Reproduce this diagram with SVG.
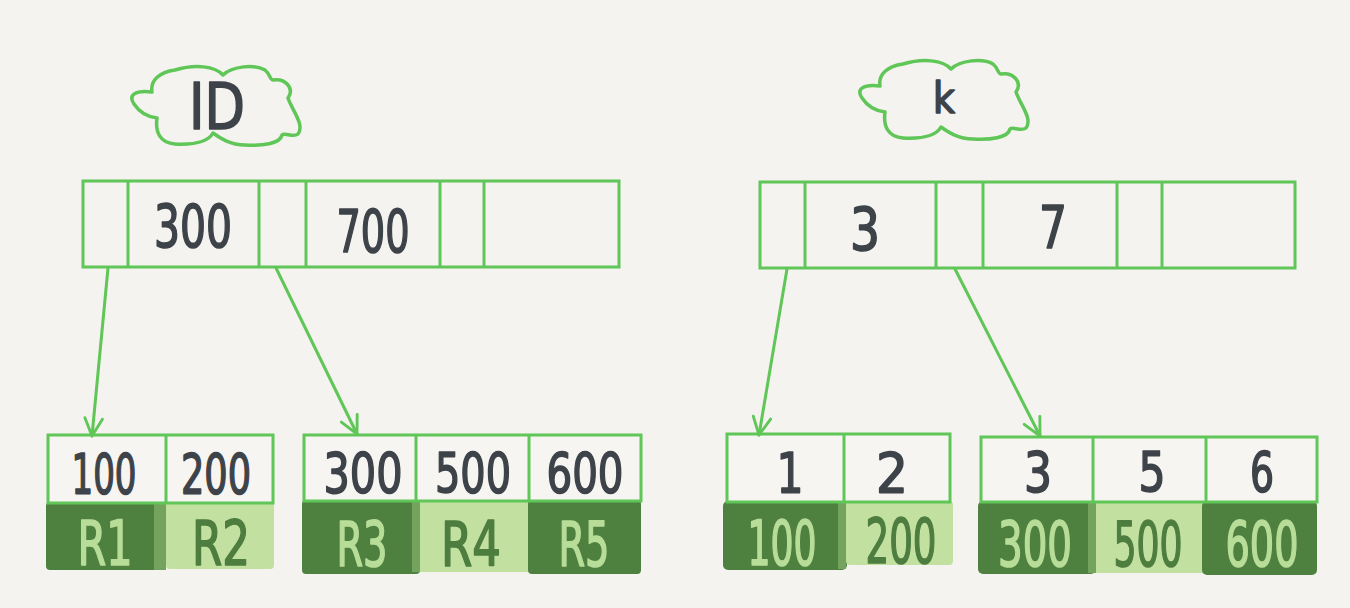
<svg xmlns="http://www.w3.org/2000/svg" width="1350" height="608" viewBox="0 0 1350 608">
<defs>
<marker id="arr" viewBox="0 0 20 20" refX="18" refY="10" markerWidth="22" markerHeight="22" markerUnits="userSpaceOnUse" orient="auto">
<path d="M2,2 L18,10 L2,18" fill="none" stroke="#5fc657" stroke-width="2.6" stroke-linecap="round" stroke-linejoin="round"/>
</marker>
<path id="cloud" d="M152 92 C150 80,160 72,175 70 C195 64,215 66,223 75 C232 66,255 64,265 70 C270 74,270 80,273 80 C285 78,295 88,288 98 C292 110,305 125,298 134 C293 138,285 132,282 135 C280 144,262 146,245 145 C230 145,220 138,213 133 C208 142,195 145,175 144 C160 143,155 132,157 118 C148 117,140 113,134 104 C128 95,135 90,152 92 Z"/>
</defs>
<style>
.bg{fill:#f4f3ef}
.box{fill:none;stroke:#5fc657;stroke-width:3}
.cell{fill:#f6f5f2;stroke:#5fc657;stroke-width:3}
.ln{stroke:#5fc657;stroke-width:3}
.cl{fill:none;stroke:#5fc657;stroke-width:3.5;stroke-linejoin:round}
.conn{fill:none;stroke:#5fc657;stroke-width:3;stroke-linecap:round}
.dk{fill:#4e8140}
.lt{fill:#c2e1a0}
.md{fill:#74a35e}
text{font-family:"DejaVu Sans Condensed","DejaVu Sans",sans-serif;text-anchor:middle;stroke-width:1.6;stroke-linejoin:round}
.t{fill:#3d4349;stroke:#3d4349;font-size:58px}
.s{font-size:56px}
.tl{fill:#b8dd98;stroke:#b8dd98;font-size:62px}
.td{fill:#4e7d40;stroke:#4e7d40;font-size:62px}
</style>
<rect class="bg" x="0" y="0" width="1350" height="608"/>

<g id="cloud-id">
<use href="#cloud" class="cl"/>
<text class="t" x="217" y="129" style="font-size:64px" textLength="56" lengthAdjust="spacingAndGlyphs">ID</text>
</g>
<g id="cloud-k">
<use href="#cloud" class="cl" transform="translate(728,-6)"/>
<text class="t" x="944" y="113" style="font-size:42px">k</text>
</g>

<g id="id-root">
<rect class="box" x="83" y="181" width="536" height="86"/>
<line class="ln" x1="128" y1="181" x2="128" y2="267"/>
<line class="ln" x1="259" y1="181" x2="259" y2="267"/>
<line class="ln" x1="306" y1="181" x2="306" y2="267"/>
<line class="ln" x1="440" y1="181" x2="440" y2="267"/>
<line class="ln" x1="484" y1="181" x2="484" y2="267"/>
<text class="t" x="193" y="247" textLength="78" lengthAdjust="spacingAndGlyphs">300</text>
<text class="t" x="373" y="252" textLength="73" lengthAdjust="spacingAndGlyphs">700</text>
</g>

<g id="k-root">
<rect class="box" x="760" y="182" width="535" height="86"/>
<line class="ln" x1="805" y1="182" x2="805" y2="268"/>
<line class="ln" x1="936" y1="182" x2="936" y2="268"/>
<line class="ln" x1="983" y1="182" x2="983" y2="268"/>
<line class="ln" x1="1117" y1="182" x2="1117" y2="268"/>
<line class="ln" x1="1162" y1="182" x2="1162" y2="268"/>
<text class="t" x="865" y="250" textLength="30" lengthAdjust="spacingAndGlyphs">3</text>
<text class="t" x="1053" y="248" textLength="28" lengthAdjust="spacingAndGlyphs">7</text>
</g>

<g id="id-leaf1">
<rect class="dk" x="46" y="502" width="112" height="68" rx="4"/>
<rect class="md" x="154" y="502" width="12" height="68"/>
<rect class="lt" x="166" y="502" width="108" height="67" rx="4"/>
<rect class="cell" x="48" y="435" width="225" height="68"/>
<line class="ln" x1="166" y1="435" x2="166" y2="503"/>
<text class="t s" x="104" y="493" textLength="65" lengthAdjust="spacingAndGlyphs">100</text>
<text class="t s" x="216" y="493" textLength="70" lengthAdjust="spacingAndGlyphs">200</text>
<text class="tl" x="105" y="565" textLength="55" lengthAdjust="spacingAndGlyphs">R1</text>
<text class="td" x="221" y="565" textLength="58" lengthAdjust="spacingAndGlyphs">R2</text>
</g>

<g id="id-leaf2">
<rect class="dk" x="302" y="500" width="118" height="74" rx="4"/>
<rect class="md" x="412" y="500" width="8" height="72"/>
<rect class="lt" x="420" y="500" width="110" height="72"/>
<rect class="dk" x="528" y="500" width="113" height="74" rx="4"/>
<rect class="cell" x="304" y="435" width="337" height="66"/>
<line class="ln" x1="416" y1="435" x2="416" y2="501"/>
<line class="ln" x1="529" y1="435" x2="529" y2="501"/>
<text class="t s" x="363" y="492" textLength="79" lengthAdjust="spacingAndGlyphs">300</text>
<text class="t s" x="473" y="492" textLength="76" lengthAdjust="spacingAndGlyphs">500</text>
<text class="t s" x="585" y="492" textLength="77" lengthAdjust="spacingAndGlyphs">600</text>
<text class="tl" x="362" y="566" textLength="51" lengthAdjust="spacingAndGlyphs">R3</text>
<text class="td" x="471" y="566" textLength="60" lengthAdjust="spacingAndGlyphs">R4</text>
<text class="tl" x="584" y="566" textLength="51" lengthAdjust="spacingAndGlyphs">R5</text>
</g>

<g id="k-leaf1">
<rect class="dk" x="723" y="501" width="124" height="69" rx="5"/>
<rect class="md" x="838" y="501" width="8" height="68"/>
<rect class="lt" x="846" y="501" width="107" height="64" rx="4"/>
<rect class="cell" x="727" y="434" width="223" height="68"/>
<line class="ln" x1="844" y1="434" x2="844" y2="502"/>
<text class="t s" x="790" y="492" textLength="27" lengthAdjust="spacingAndGlyphs">1</text>
<text class="t s" x="892" y="492" textLength="32" lengthAdjust="spacingAndGlyphs">2</text>
<text class="tl" x="782" y="565" textLength="69" lengthAdjust="spacingAndGlyphs">100</text>
<text class="td" x="901" y="563" textLength="71" lengthAdjust="spacingAndGlyphs">200</text>
</g>

<g id="k-leaf2">
<rect class="dk" x="978" y="501" width="118" height="73" rx="5"/>
<rect class="md" x="1088" y="501" width="8" height="72"/>
<rect class="lt" x="1096" y="501" width="108" height="72"/>
<rect class="dk" x="1202" y="501" width="115" height="74" rx="5"/>
<rect class="cell" x="981" y="437" width="336" height="65"/>
<line class="ln" x1="1093" y1="437" x2="1093" y2="502"/>
<line class="ln" x1="1206" y1="437" x2="1206" y2="502"/>
<text class="t s" x="1038" y="491" textLength="28" lengthAdjust="spacingAndGlyphs">3</text>
<text class="t s" x="1152" y="491" textLength="27" lengthAdjust="spacingAndGlyphs">5</text>
<text class="t s" x="1262" y="491" textLength="24" lengthAdjust="spacingAndGlyphs">6</text>
<text class="tl" x="1035" y="566" textLength="74" lengthAdjust="spacingAndGlyphs">300</text>
<text class="td" x="1148" y="566" textLength="69" lengthAdjust="spacingAndGlyphs">500</text>
<text class="tl" x="1262" y="566" textLength="73" lengthAdjust="spacingAndGlyphs">600</text>
</g>

<g id="connectors">
<line class="conn" x1="108" y1="268" x2="92" y2="436" marker-end="url(#arr)"/>
<line class="conn" x1="276" y1="268" x2="357" y2="434" marker-end="url(#arr)"/>
<line class="conn" x1="787" y1="269" x2="759" y2="435" marker-end="url(#arr)"/>
<line class="conn" x1="955" y1="269" x2="1040" y2="436" marker-end="url(#arr)"/>
</g>
</svg>
